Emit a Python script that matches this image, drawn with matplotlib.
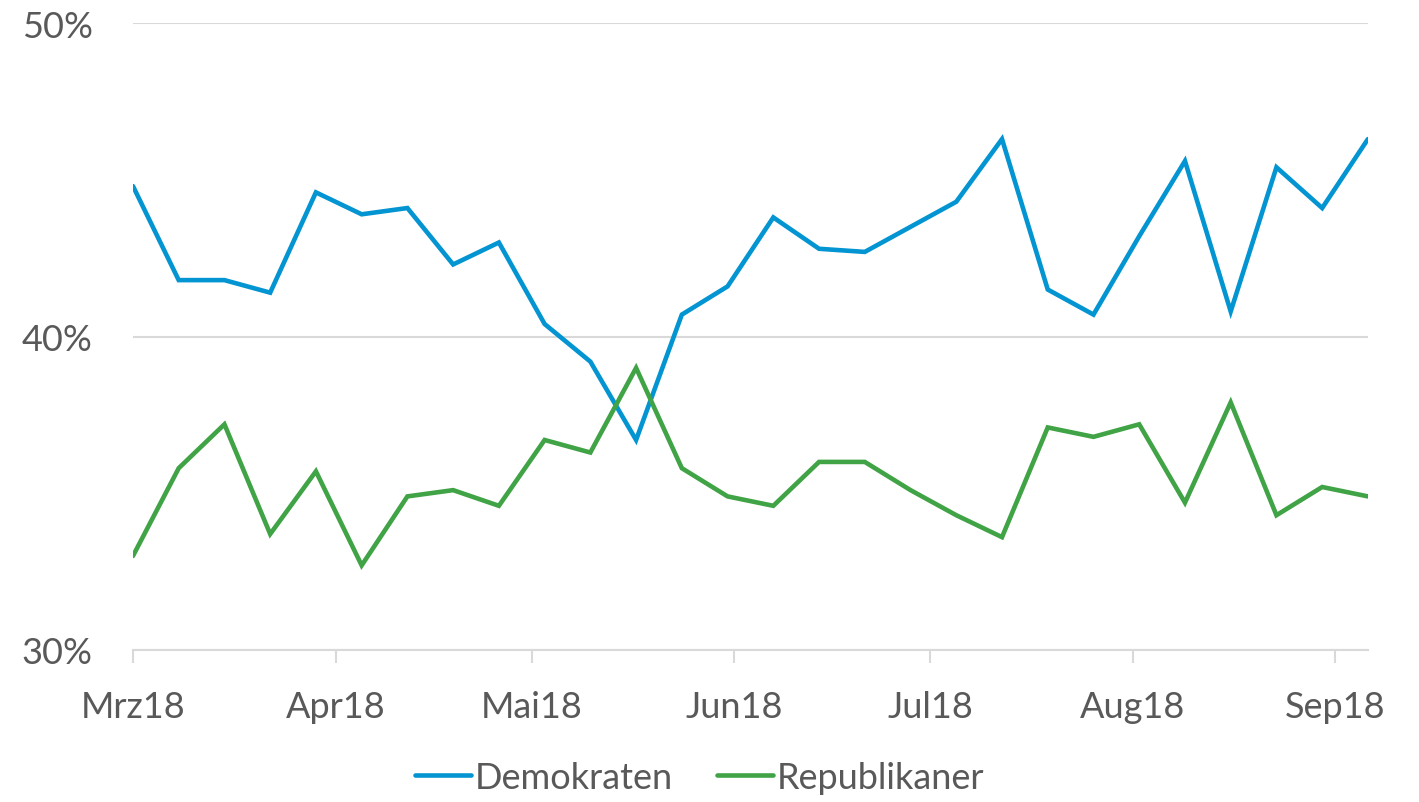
import matplotlib
matplotlib.use("Agg")
import matplotlib.pyplot as plt
import matplotlib.dates as mdates
from matplotlib.ticker import FixedLocator, FuncFormatter
from datetime import datetime

# Umfragewerte (wöchentlich)
daten = ["2018-03-01", "2018-03-08", "2018-03-15", "2018-03-22", "2018-03-29",
         "2018-04-05", "2018-04-12", "2018-04-19", "2018-04-26", "2018-05-03",
         "2018-05-10", "2018-05-17", "2018-05-24", "2018-05-31", "2018-06-07",
         "2018-06-14", "2018-06-21", "2018-06-28", "2018-07-05", "2018-07-12",
         "2018-07-19", "2018-07-26", "2018-08-02", "2018-08-09", "2018-08-16",
         "2018-08-23", "2018-08-30", "2018-09-06"]
demokraten = [44.8, 41.8, 41.8, 41.4, 44.6, 43.9, 44.1, 42.3, 43.0, 40.4,
              39.2, 36.7, 40.7, 41.6, 43.8, 42.8, 42.7, 43.5, 44.3, 46.3,
              41.5, 40.7, 43.2, 45.6, 40.8, 45.4, 44.1, 46.3]
republikaner = [33.0, 35.8, 37.2, 33.7, 35.7, 32.7, 34.9, 35.1, 34.6, 36.7,
                36.3, 39.0, 35.8, 34.9, 34.6, 36.0, 36.0, 35.1, 34.3, 33.6,
                37.1, 36.8, 37.2, 34.7, 37.9, 34.3, 35.2, 34.9]

monate = ["2018-03-01", "2018-04-01", "2018-05-01", "2018-06-01",
          "2018-07-01", "2018-08-01", "2018-09-01"]
monat_labels = ["Mrz18", "Apr18", "Mai18", "Jun18", "Jul18", "Aug18", "Sep18"]
y_ticks = [30, 40, 50]

plt.rcParams['font.family'] = ['Lato', 'DejaVu Sans']
grau = '#595959'
fs = 26

x = [datetime.strptime(d, "%Y-%m-%d") for d in daten]
xm = [mdates.date2num(datetime.strptime(d, "%Y-%m-%d")) for d in monate]

fig = plt.figure(figsize=(14.19, 8.03), dpi=100)
ax = fig.add_axes([0.0937, 0.1893, 0.8703, 0.7807])

ax.plot(x, demokraten, color='#0394d2', lw=3.3, label='Demokraten',
        solid_capstyle='round', solid_joinstyle='miter')
ax.plot(x, republikaner, color='#40a345', lw=3.3, label='Republikaner',
        solid_capstyle='round', solid_joinstyle='miter')

ax.set_ylim(30, 50)
ax.set_xlim(mdates.date2num(x[0]), mdates.date2num(x[-1]))
ax.set_yticks(y_ticks)
ax.yaxis.set_major_formatter(FuncFormatter(lambda v, p: f"{int(v)}%"))
ax.xaxis.set_major_locator(FixedLocator(xm))
ax.set_xticklabels(monat_labels)

ax.grid(axis='y', color='#d9d9d9', lw=1.5)
ax.set_axisbelow(True)
for s in ['top', 'right', 'left']:
    ax.spines[s].set_visible(False)
ax.spines['bottom'].set_color('#d9d9d9')
ax.spines['bottom'].set_linewidth(1.5)

ax.tick_params(axis='y', length=0, pad=29, labelsize=fs, labelcolor=grau)
ax.tick_params(axis='x', length=9, width=1.5, color='#d9d9d9', pad=20,
               labelsize=fs, labelcolor=grau)

leg = fig.legend(loc='center', bbox_to_anchor=(0.493, 0.031), ncol=2,
                 frameon=False, fontsize=fs, handlelength=1.55,
                 handletextpad=0.12, columnspacing=1.2)
for t in leg.get_texts():
    t.set_color(grau)

fig.savefig("out.png", dpi=100)
